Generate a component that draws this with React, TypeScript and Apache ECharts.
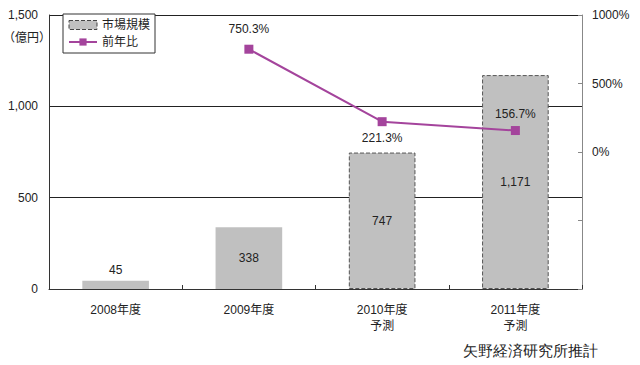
import React, { useEffect, useRef } from "react";
import * as echarts from "echarts";

const categories = ["2008年度", "2009年度", "2010年度\n予測", "2011年度\n予測"];
const marketSize = [45, 338, 747, 1171];
const yoy: (number | null)[] = [null, 750.3, 221.3, 156.7];
const yoyLabelPos = ["top", "top", "bottom", "top"];
const forecastFlags = [false, false, true, true];

export default function App() {
  const ref = useRef<HTMLDivElement>(null);
  useEffect(() => {
    const chart = echarts.init(ref.current!, undefined, { renderer: "svg" });
    const font = "Liberation Sans, Noto Sans CJK JP, sans-serif";
    const barData = marketSize.map((v, i) => ({
      value: v,
      itemStyle: forecastFlags[i]
        ? { color: "#c0c0c0", borderColor: "#555", borderWidth: 1, borderType: "dashed" }
        : { color: "#c0c0c0" },
      label: {
        position: i === 0 ? "top" : "inside",
      },
    }));
    const lineData = yoy.map((v, i) => ({
      value: v,
      label: { position: yoyLabelPos[i] as any, distance: i === 1 ? 10 : 6 },
    }));
    chart.setOption({
      animation: false,
      textStyle: { fontFamily: font },
      grid: { left: 49, right: 58, top: 15, bottom: 76 },
      legend: {
        left: 63,
        top: 14,
        orient: "vertical",
        backgroundColor: "#fff",
        borderColor: "#333",
        borderWidth: 1,
        padding: [5, 5, 5, 5],
        itemGap: 5,
        itemWidth: 28,
        itemHeight: 9,
        textStyle: { fontSize: 12, color: "#222", fontFamily: font },
        data: [
          {
            name: "市場規模",
            icon: "rect",
            itemStyle: { color: "#c0c0c0", borderColor: "#444", borderWidth: 1, borderType: "dashed" },
          },
          { name: "前年比" },
        ],
      },
      xAxis: {
        type: "category",
        data: categories,
        axisLine: { lineStyle: { color: "#333", width: 1 } },
        axisTick: { show: true, inside: true, length: 4, lineStyle: { color: "#333" } },
        axisLabel: { color: "#222", fontSize: 12, margin: 13, lineHeight: 16, fontFamily: font },
      },
      yAxis: [
        {
          type: "value",
          min: 0,
          max: 1500,
          interval: 500,
          axisLine: { show: true, lineStyle: { color: "#333" } },
          axisTick: { show: false },
          axisLabel: {
            color: "#222",
            fontSize: 12,
            margin: 11,
            formatter: (v: number) => v.toLocaleString("en-US"),
          },
          splitLine: { show: true, lineStyle: { color: "#222", width: 1 } },
        },
        {
          type: "value",
          min: -1000,
          max: 1000,
          interval: 500,
          position: "right",
          axisLine: { show: true, lineStyle: { color: "#888" } },
          axisTick: { show: true, inside: true, length: 4, lineStyle: { color: "#888" } },
          axisLabel: {
            color: "#222",
            fontSize: 12,
            margin: 10,
            formatter: (v: number) => (v < 0 ? "" : v + "%"),
          },
          splitLine: { show: false },
        },
      ],
      graphic: [
        {
          type: "text",
          left: 3,
          top: 30,
          style: { text: "（億円）", fontSize: 12, fill: "#222", fontFamily: "Noto Sans CJK JP" },
        },
        {
          type: "text",
          right: 42,
          top: 343,
          style: { text: "矢野経済研究所推計", fontSize: 15, fill: "#222", fontFamily: "serif" },
        },
      ],
      series: [
        {
          name: "市場規模",
          type: "bar",
          barWidth: "50%",
          data: barData,
          itemStyle: { color: "#c0c0c0" },
          label: {
            show: true,
            color: "#222",
            fontSize: 12,
            formatter: (p: any) => p.value.toLocaleString("en-US"),
          },
        },
        {
          name: "前年比",
          type: "line",
          yAxisIndex: 1,
          data: lineData,
          symbol: "rect",
          symbolSize: 9,
          lineStyle: { color: "#a4449c", width: 2 },
          itemStyle: { color: "#a4449c" },
          label: {
            show: true,
            color: "#222",
            fontSize: 12,
            formatter: (p: any) => p.value.toFixed(1) + "%",
          },
        },
      ],
    });
    return () => chart.dispose();
  }, []);
  return (
    <div
      ref={ref}
      style={{ position: "absolute", left: 0, top: 0, width: 640, height: 365, background: "#fff" }}
    />
  );
}
